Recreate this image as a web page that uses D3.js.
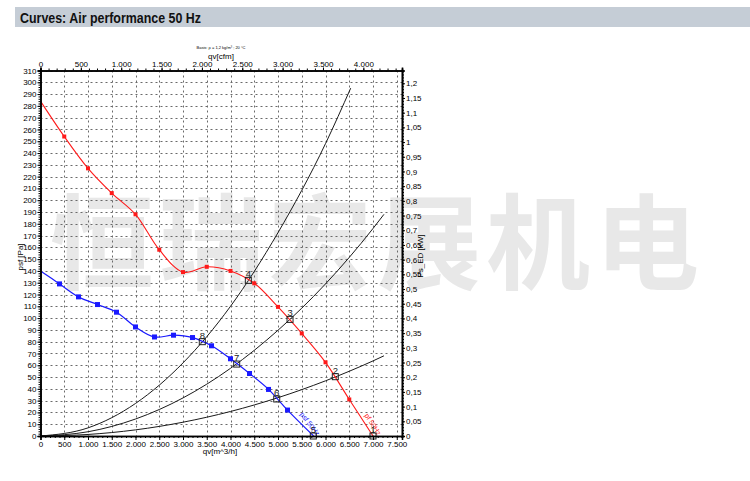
<!DOCTYPE html>
<html><head><meta charset="utf-8">
<script src="https://cdn.jsdelivr.net/npm/d3@7"></script>
<style>body{margin:0;background:#fff}svg{display:block}</style>
</head><body>
<svg id="c" width="750" height="481"></svg>
<script>
// ---------------- data ----------------
const title = "Curves: Air performance 50 Hz";
const watermark = "恒瑞宏展机电";
// red curve (pf) : flow m3/h, pressure Pa
const redQ = [0, 500, 1000, 1500, 2000, 2500, 3000, 3500, 4000, 4500, 5000, 5500, 6000, 6500, 7000];
const redP = [284, 254, 227, 206, 188, 158, 139, 143.5, 140, 129.5, 109.5, 87, 62.5, 31, 0];
// blue curve (psf)
const blueQ = [0, 400, 800, 1200, 1600, 2000, 2400, 2800, 3200, 3600, 4000, 4400, 4800, 5200, 5750];
const blueP = [140, 129, 118, 111.5, 105, 92.5, 84, 85.5, 83.5, 76.5, 65.5, 53, 39.5, 22, 0];
// system curves (read along the black parabolas)
const sysQ = [0, 1000, 2000, 3000, 4000, 5000, 6000, 7000];
const sysA = [0, 6.9, 27.6, 62, 110, 172.5, 248];
const sysAEnd = [6530, 295];
const sysB = [0, 3.6, 14.4, 32.3, 57.4, 89.7, 129, 176];
const sysBEnd = [7230, 188];
const sysC = [0, 1.3, 5.2, 11.7, 20.8, 32.5, 46.8, 63.7];
const sysCEnd = [7230, 68];
// operating points
const opIds = [1, 2, 3, 4, 5, 6, 7, 8];
const opQ = [7000, 6206, 5253, 4375, 5743, 4973, 4130, 3406];
const opP = [0, 50.3, 98.9, 132, 0, 31.4, 61, 80];
// ticks
const xTicks = d3.range(0, 7501, 500);
const xMinor = d3.range(0, 7601, 100);
const cfmTicks = d3.range(0, 4001, 500);
const cfmMinor = d3.range(0, 4401, 100);
const yTicks = d3.range(0, 311, 10);
const yMinor = d3.range(0, 311, 2);
const rTicks = d3.range(0, 25).map(i => i * 0.05);
const rMinor = d3.range(0, 125).map(i => i * 0.01);

// ---------------- layout ----------------
const svg = d3.select("#c");
const L = 40.5, R = 402, T = 70.5, B = 436;
const x = d3.scaleLinear().domain([0, 7610]).range([L, R]);
const xc = d3.scaleLinear().domain([0, 7610 / 1.699]).range([L, R]);
const y = d3.scaleLinear().domain([0, 310]).range([B, T]);
const yr = d3.scaleLinear().domain([0, 1.2435]).range([B, T]);
const loc = d3.formatLocale({decimal: ",", thousands: ".", grouping: [3], currency: ["", ""]});
const fmtX = loc.format(",");
const fmtR = loc.format(".2~f");
const FONT = "'Liberation Sans', Arial, sans-serif";

// title bar
svg.append("rect").attr("x", 15).attr("y", 7).attr("width", 735).attr("height", 20).attr("fill", "#c5cdd6");
svg.append("text").attr("x", 20).attr("y", 22.5).text(title)
  .attr("font-family", "'Liberation Sans Narrow','Liberation Sans',Arial,sans-serif")
  .attr("font-weight", "bold").attr("font-size", 15).attr("fill", "#111")
  .attr("textLength", 181).attr("lengthAdjust", "spacingAndGlyphs");

// watermark
const wm = svg.append("g").attr("font-family", "'Noto Sans CJK SC'").attr("font-weight", 700)
  .attr("font-size", 104).attr("fill", "#e8e8e8").attr("text-anchor", "middle");
watermark.split("").forEach((ch, i) => wm.append("text").attr("x", 102 + i * 109).attr("y", 282).text(ch));

// grid
const grid = svg.append("g").attr("stroke", "#6a6a6a").attr("stroke-width", 1).attr("stroke-dasharray", "2,3");
yTicks.filter(v => v > 0).forEach(v => grid.append("line").attr("x1", L).attr("x2", R)
  .attr("y1", Math.round(y(v)) + 0.5).attr("y2", Math.round(y(v)) + 0.5));
xTicks.filter(v => v > 0).forEach(v => grid.append("line").attr("y1", T).attr("y2", B)
  .attr("x1", Math.round(x(v)) + 0.5).attr("x2", Math.round(x(v)) + 0.5));

// clip
svg.append("clipPath").attr("id", "clip").append("rect").attr("x", L).attr("y", T).attr("width", R - L).attr("height", B - T);
const plot = svg.append("g").attr("clip-path", "url(#clip)");

// system curves
const sysLine = d3.line().x(d => x(d[0])).y(d => y(d[1])).curve(d3.curveMonotoneX);
[[sysA, sysAEnd], [sysB, sysBEnd], [sysC, sysCEnd]].forEach(([vals, end]) => {
  const pts = vals.map((p, i) => [sysQ[i], p]).concat([end]);
  plot.append("path").attr("d", sysLine(pts)).attr("fill", "none").attr("stroke", "#1a1a1a").attr("stroke-width", 1);
});

// main curves
const line = d3.line().x(d => x(d[0])).y(d => y(d[1])).curve(d3.curveCatmullRom.alpha(0.5));
const red = redQ.map((q, i) => [q, redP[i]]);
const blue = blueQ.map((q, i) => [q, blueP[i]]);
plot.append("path").attr("d", line(red)).attr("fill", "none").attr("stroke", "#ff1a1a").attr("stroke-width", 1.1);
plot.append("path").attr("d", line(blue)).attr("fill", "none").attr("stroke", "#1a1aff").attr("stroke-width", 1.2);
plot.selectAll(".rm").data(red.slice(1, -1)).join("rect")
  .attr("x", d => x(d[0]) - 2).attr("y", d => y(d[1]) - 2).attr("width", 4).attr("height", 4).attr("fill", "#ff1a1a");
plot.selectAll(".bm").data(blue.slice(1, -1)).join("rect")
  .attr("x", d => x(d[0]) - 2.5).attr("y", d => y(d[1]) - 2.5).attr("width", 5).attr("height", 5).attr("fill", "#1a1aff");

// curve labels
svg.append("text").attr("transform", `translate(${x(5200) + 12},${y(20) + 2}) rotate(52)`)
  .attr("font-family", FONT).attr("font-size", 7).attr("fill", "#1a1aff").text("psf 50Hz");
svg.append("text").attr("transform", `translate(${x(6500) + 15},${y(20) + 3}) rotate(57)`)
  .attr("font-family", FONT).attr("font-size", 7).attr("fill", "#ff1a1a").text("pf 50Hz");

// operating points
const ops = svg.append("g");
opIds.forEach((id, i) => {
  const cx = x(opQ[i]), cy = y(opP[i]);
  ops.append("rect").attr("x", cx - 3).attr("y", cy - 3).attr("width", 6).attr("height", 6)
    .attr("fill", "none").attr("stroke", "#222").attr("stroke-width", 1);
  ops.append("text").attr("x", cx).attr("y", cy - 3).attr("text-anchor", "middle")
    .attr("font-family", FONT).attr("font-size", 9.5).attr("fill", "#222").text(id);
});

// axes
function styleAxis(g) { g.select(".domain").attr("stroke", "#000").attr("stroke-width", 1.6); g.selectAll("line").attr("stroke", "#000"); g.selectAll("text").attr("font-family", FONT).attr("font-size", 8).attr("fill", "#000"); }
function noText(g) { g.selectAll("text").remove(); }
svg.append("g").attr("transform", `translate(0,${B})`)
  .call(d3.axisBottom(x).tickValues(xMinor).tickSize(2)).call(styleAxis).call(noText);
svg.append("g").attr("transform", `translate(0,${B})`)
  .call(d3.axisBottom(x).tickValues(xTicks).tickSize(4).tickPadding(1).tickFormat(fmtX)).call(styleAxis);
svg.append("g").attr("transform", `translate(0,${T})`)
  .call(d3.axisTop(xc).tickValues(cfmMinor).tickSize(2)).call(styleAxis).call(noText);
svg.append("g").attr("transform", `translate(0,${T})`)
  .call(d3.axisTop(xc).tickValues(cfmTicks).tickSize(3).tickPadding(1).tickFormat(fmtX)).call(styleAxis);
svg.append("g").attr("transform", `translate(${L},0)`)
  .call(d3.axisLeft(y).tickValues(yMinor).tickSize(2)).call(styleAxis).call(noText);
svg.append("g").attr("transform", `translate(${L},0)`)
  .call(d3.axisLeft(y).tickValues(yTicks).tickSize(3).tickPadding(1).tickFormat(d3.format("d"))).call(styleAxis);
svg.append("g").attr("transform", `translate(${R},0)`)
  .call(d3.axisRight(yr).tickValues(rMinor).tickSize(2)).call(styleAxis).call(noText);
svg.append("g").attr("transform", `translate(${R},0)`)
  .call(d3.axisRight(yr).tickValues(rTicks).tickSize(3).tickPadding(1).tickFormat(fmtR)).call(styleAxis);

// axis titles
const at = svg.append("g").attr("font-family", FONT).attr("fill", "#000");
at.append("text").attr("x", 221).attr("y", 59).attr("text-anchor", "middle").attr("font-size", 8).text("qv[cfm]");
at.append("text").attr("x", 221).attr("y", 49).attr("text-anchor", "middle").attr("font-size", 4).text("Basis: ρ = 1,2 kg/m³ ; 20 °C");
at.append("text").attr("x", 220).attr("y", 454).attr("text-anchor", "middle").attr("font-size", 8).text("qv[m^3/h]");
at.append("text").attr("transform", "translate(23,257) rotate(-90)").attr("text-anchor", "middle").attr("font-size", 8).text("psf [Pa]");
at.append("text").attr("transform", "translate(423,256) rotate(-90)").attr("text-anchor", "middle").attr("font-size", 8).text("Ps_ED [kW]");
</script>
</body></html>
